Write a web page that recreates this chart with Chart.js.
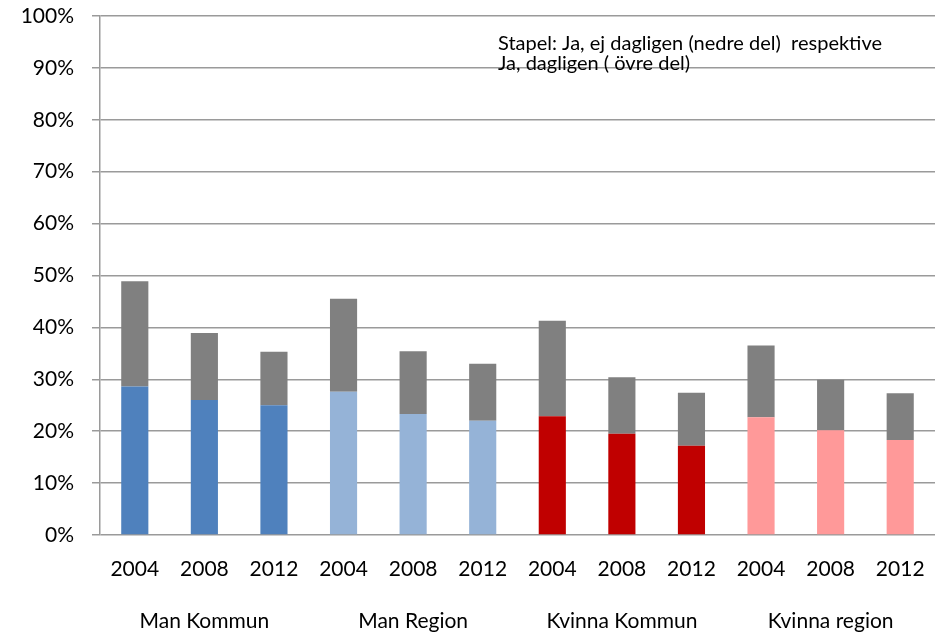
<!DOCTYPE html>
<html>
<head>
<meta charset="utf-8">
<script src="https://cdn.jsdelivr.net/npm/chart.js@4.4.1/dist/chart.umd.min.js"></script>
<style>
  html, body { margin: 0; padding: 0; background: #fff; }
  #wrap { width: 950px; height: 634px; }
</style>
</head>
<body>
<div id="wrap"><canvas id="chart"></canvas></div>
<script>
/* ---------- data ---------- */
const years = ["2004", "2008", "2012"];
const groups = ["Man Kommun", "Man Region", "Kvinna Kommun", "Kvinna region"];

// Ja, ej dagligen (nedre del), percent
const lowerValues = [28.6, 26.0, 25.0, 27.6, 23.3, 22.0, 22.9, 19.5, 17.2, 22.7, 20.2, 18.3];
// Ja, dagligen (övre del), percent
const upperValues = [20.3, 12.9, 10.3, 17.9, 12.1, 11.0, 18.4, 10.9, 10.2, 13.8, 9.7, 9.0];

const yTicks = [0, 10, 20, 30, 40, 50, 60, 70, 80, 90, 100];

const groupColors = ["#4F81BD", "#95B3D7", "#C00000", "#FF9999"];
const upperColor = "#808080";

const noteLines = ["Stapel: Ja, ej dagligen (nedre del)  respektive", "Ja, dagligen ( övre del)"];

/* ---------- labels: year, blank, group name under middle bar ---------- */
const labels = [];
groups.forEach(g => {
    years.forEach((y, i) => {
        labels.push(i === 1 ? [y, "", g] : [y, "", ""]);
    });
});

const lowerColors = labels.map((_, i) => groupColors[Math.floor(i / years.length)]);

/* ---------- note text plugin ---------- */
const notePlugin = {
    id: "note",
    afterDraw(chart) {
        const ctx = chart.ctx;
        ctx.save();
        ctx.font = "20px Lato";
        ctx.fillStyle = "#000";
        ctx.textBaseline = "alphabetic";
        ctx.fillText(noteLines[0], 498, 50);
        ctx.fillText(noteLines[1], 498, 70);
        ctx.restore();
    }
};

new Chart(document.getElementById("chart"), {
    type: "bar",
    data: {
        labels: labels,
        datasets: [
            {
                label: "Ja, ej dagligen",
                data: lowerValues,
                backgroundColor: lowerColors,
                categoryPercentage: 1,
                barPercentage: 0.39
            },
            {
                label: "Ja, dagligen",
                data: upperValues,
                backgroundColor: upperColor,
                categoryPercentage: 1,
                barPercentage: 0.39
            }
        ]
    },
    options: {
        responsive: true,
        maintainAspectRatio: false,
        animation: false,
        layout: { padding: { top: 16, right: 15, bottom: 0, left: 0 } },
        plugins: {
            legend: { display: false },
            tooltip: { enabled: false }
        },
        scales: {
            x: {
                stacked: true,
                grid: { display: false },
                border: { display: false },
                ticks: {
                    color: "#000",
                    font: { family: "Lato", size: 21, lineHeight: 1.25 },
                    maxRotation: 0,
                    autoSkip: false,
                    padding: 13
                },
                afterFit(scale) { scale.height = 634 - 535; }
            },
            y: {
                stacked: true,
                min: 0,
                max: 100,
                afterBuildTicks(scale) { scale.ticks = yTicks.map(v => ({ value: v })); },
                grid: { color: "#9a9a9a", lineWidth: 1.5, tickLength: 8 },
                border: { color: "#9a9a9a", width: 1.5 },
                ticks: {
                    color: "#000",
                    font: { family: "Lato", size: 21 },
                    padding: 18,
                    callback: v => v + "%"
                },
                afterFit(scale) {
                    scale.width = 100;
                    scale.paddingTop = 0;
                    scale.paddingBottom = 0;
                }
            }
        }
    },
    plugins: [notePlugin]
});
</script>
</body>
</html>
